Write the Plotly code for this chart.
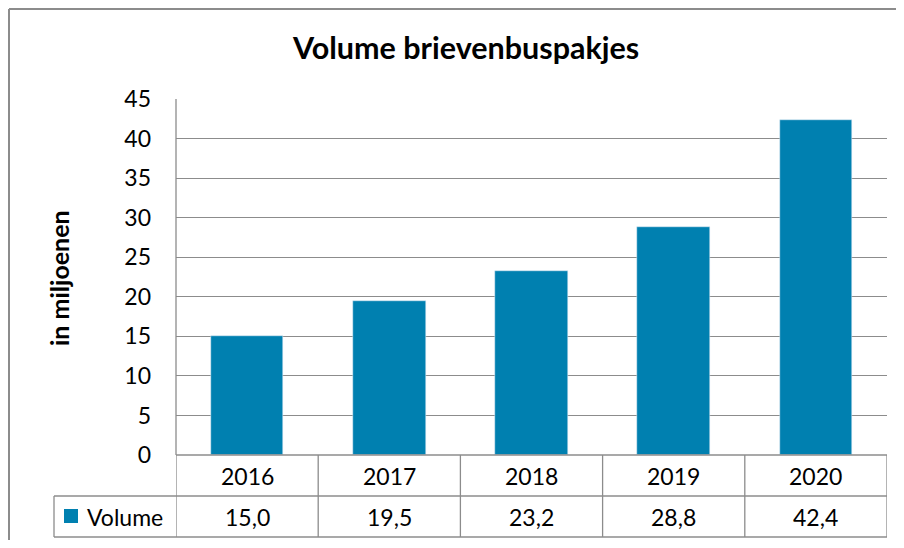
import plotly.graph_objects as go

years = ["2016", "2017", "2018", "2019", "2020"]
volume = [15.0, 19.5, 23.2, 28.8, 42.4]
y_ticks = [0, 5, 10, 15, 20, 25, 30, 35, 40, 45]
series_name = "Volume"
title_text = "Volume brievenbuspakjes"
y_title = "in miljoenen"

OFF = 8  # page body margin offset
W, H = 904 - 2 * OFF, 548 - 2 * OFF
L, R, T, B = 176, 887, 99, 455  # screen coords of plot area
BAR = "#0080b0"
GRID = "#8c8c8c"
FONT = "Lato"
FS = 23


def px(xs):
    return (xs - L) / (R - L)


def py(ys):
    return (B - ys) / (B - T)


fig = go.Figure()
fig.add_trace(go.Bar(x=list(range(len(years))), y=volume, marker_color=BAR,
                     width=0.51, name=series_name, showlegend=False))

shapes = []
line = dict(color=GRID, width=1.3)
# outer frame (left and top edges visible)
shapes.append(dict(type="line", xref="paper", yref="paper",
                   x0=px(9), x1=px(9), y0=py(9), y1=py(560),
                   line=dict(color=GRID, width=2), layer="below"))
shapes.append(dict(type="line", xref="paper", yref="paper",
                   x0=px(9), x1=px(960), y0=py(9), y1=py(9),
                   line=dict(color=GRID, width=2), layer="below"))
# table horizontal lines
shapes.append(dict(type="line", xref="paper", yref="paper",
                   x0=px(L), x1=px(R), y0=py(B), y1=py(B), line=line))
shapes.append(dict(type="line", xref="paper", yref="paper",
                   x0=px(54), x1=px(R), y0=py(496), y1=py(496), line=line))
shapes.append(dict(type="line", xref="paper", yref="paper",
                   x0=px(54), x1=px(R), y0=py(537), y1=py(537), line=line))
# legend cell left edge
shapes.append(dict(type="line", xref="paper", yref="paper",
                   x0=px(54), x1=px(54), y0=py(496), y1=py(537), line=line))
# vertical separators at category boundaries
for i in range(len(years) + 1):
    shapes.append(dict(type="line", xref="x", yref="paper",
                       x0=i - 0.5, x1=i - 0.5, y0=py(B), y1=py(537), line=line))
# y axis line
shapes.append(dict(type="line", xref="paper", yref="paper",
                   x0=0, x1=0, y0=0, y1=1, line=line))
# legend key
shapes.append(dict(type="rect", xref="paper", yref="paper",
                   x0=px(64), x1=px(78), y0=py(509), y1=py(523),
                   fillcolor=BAR, line=dict(width=0)))

ann = []
for i, (yr, v) in enumerate(zip(years, volume)):
    ann.append(dict(x=i, xref="x", y=py(476), yref="paper", text=yr,
                    showarrow=False, font=dict(family=FONT, size=FS, color="#000"),
                    xanchor="center", yanchor="middle"))
    ann.append(dict(x=i, xref="x", y=py(517), yref="paper",
                    text=f"{v:.1f}".replace(".", ","),
                    showarrow=False, font=dict(family=FONT, size=FS, color="#000"),
                    xanchor="center", yanchor="middle"))
ann.append(dict(x=px(85), xref="paper", y=py(517), yref="paper", text=series_name,
                showarrow=False, font=dict(family=FONT, size=23, color="#000"),
                xanchor="left", yanchor="middle"))
ann.append(dict(x=px(59), xref="paper", y=py(278), yref="paper", text=f"<b>{y_title}</b>",
                showarrow=False, textangle=-90,
                font=dict(family=FONT, size=25, color="#000"),
                xanchor="center", yanchor="middle"))
ann.append(dict(x=px(465), xref="paper", y=py(47), yref="paper", text=f"<b>{title_text}</b>",
                showarrow=False, font=dict(family=FONT, size=30.5, color="#000"),
                xanchor="center", yanchor="middle"))

fig.update_layout(
    width=W, height=H,
    margin=dict(l=L - OFF, r=W + OFF - R, t=T - OFF, b=H + OFF - B, pad=0),
    paper_bgcolor="white", plot_bgcolor="white",
    shapes=shapes, annotations=ann,
    xaxis=dict(range=[-0.5, len(years) - 0.5], showticklabels=False, showgrid=False,
               zeroline=False, showline=False, ticks=""),
    yaxis=dict(range=[0, 45], tickvals=y_ticks, showgrid=True, gridcolor=GRID, gridwidth=1.3,
               zeroline=False, showline=False, ticks="", ticklabelstandoff=24,
               tickfont=dict(family=FONT, size=FS, color="#000")),
    bargap=0,
)

fig.write_html("out.html")
